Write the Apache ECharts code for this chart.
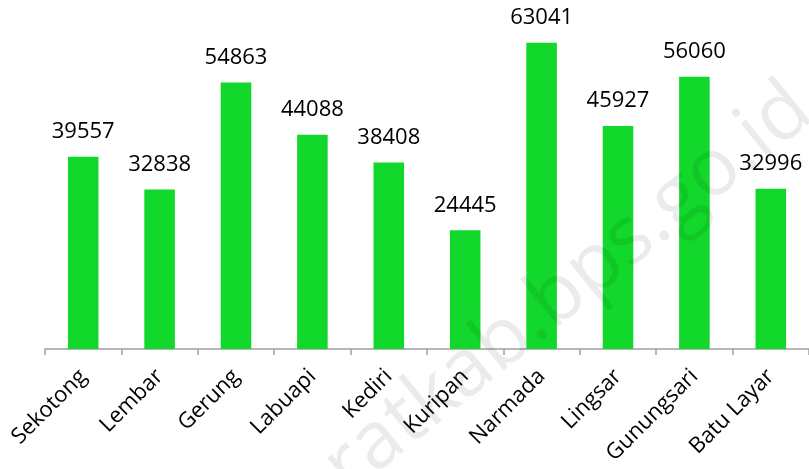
<!DOCTYPE html>
<html>
<head>
<meta charset="utf-8">
<script src="https://cdn.jsdelivr.net/npm/echarts@6/dist/echarts.min.js"></script>
<style>
	html, body { margin: 0; padding: 0; background: #fff; }
	#chart { width: 809px; height: 469px; }
</style>
</head>
<body>
<div id="chart"></div>
<script>
// kecamatan dan jumlah
const categories = ['Sekotong', 'Lembar', 'Gerung', 'Labuapi', 'Kediri', 'Kuripan', 'Narmada', 'Lingsar', 'Gunungsari', 'Batu Layar'];
const values = [39557, 32838, 54863, 44088, 38408, 24445, 63041, 45927, 56060, 32996];

const chart = echarts.init(document.getElementById('chart'));

chart.setOption({
	animation: false,
	grid: { left: 45, right: -3, top: 9, bottom: 120 },
	xAxis: {
		type: 'category',
		data: categories,
		axisLine: { lineStyle: { color: '#a0a0a0', width: 1.5 } },
		axisTick: { show: true, length: 6, lineStyle: { color: '#a0a0a0', width: 1.5 } },
		axisLabel: {
			interval: 0,
			rotate: 45,
			margin: 24,
			color: '#000',
			fontFamily: 'Open Sans',
			fontSize: 22
		}
	},
	yAxis: {
		type: 'value',
		min: 0,
		max: 70000,
		show: false,
		splitLine: { show: false }
	},
	series: [
		{
			type: 'bar',
			data: values,
			barWidth: '40%',
			itemStyle: { color: '#12d82b' },
			label: {
				show: true,
				position: 'top',
				distance: 14,
				color: '#000',
				fontFamily: 'Open Sans',
				fontSize: 22
			}
		}
	],
	// watermark
	graphic: [
		{
			type: 'text',
			x: 802,
			y: 100,
			rotation: 0.68,
			z: 100,
			style: {
				text: 'lombokbaratkab.bps.go.id',
				align: 'right',
				verticalAlign: 'middle',
				fontFamily: 'Open Sans',
				fontSize: 80,
				fill: 'rgba(0,0,0,0.08)'
			}
		}
	]
});
</script>
</body>
</html>
